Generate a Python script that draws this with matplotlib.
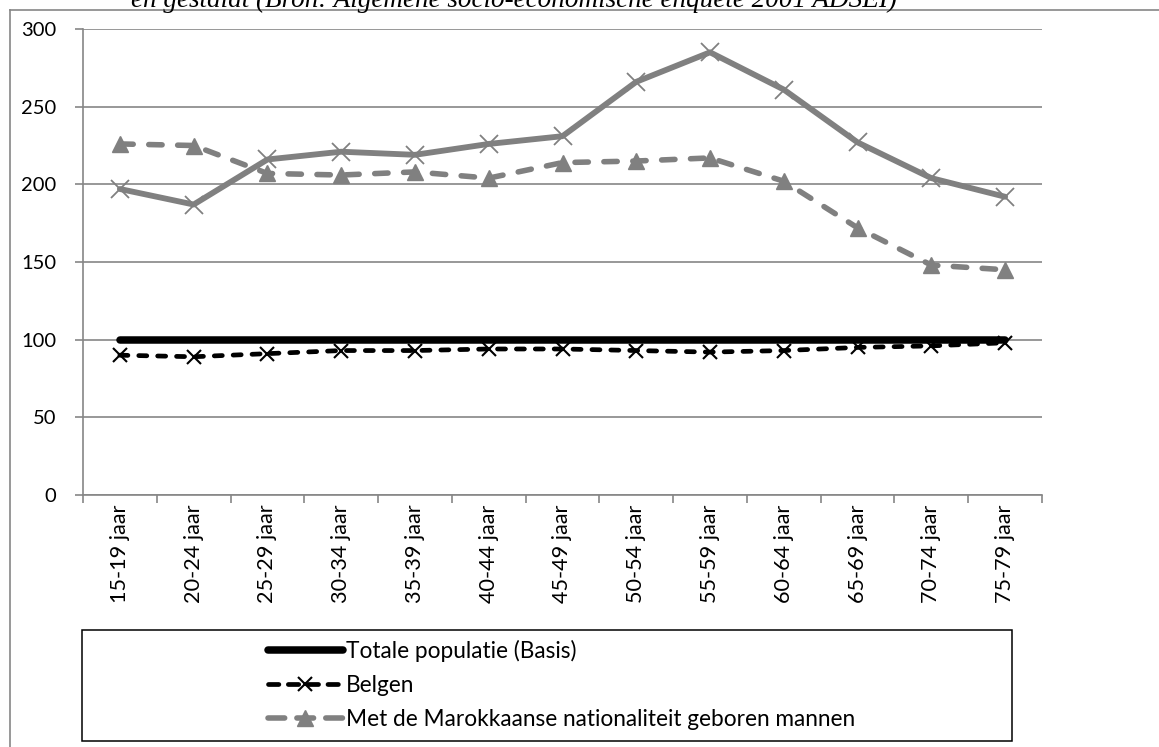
import matplotlib
matplotlib.use("Agg")
import matplotlib.pyplot as plt
from matplotlib.lines import Line2D
from matplotlib.patches import Rectangle

# Age groups and index values (total population = 100)
age_groups = ["15-19 jaar", "20-24 jaar", "25-29 jaar", "30-34 jaar", "35-39 jaar",
              "40-44 jaar", "45-49 jaar", "50-54 jaar", "55-59 jaar", "60-64 jaar",
              "65-69 jaar", "70-74 jaar", "75-79 jaar"]
totale_populatie = [100, 100, 100, 100, 100, 100, 100, 100, 100, 100, 100, 100, 100]
belgen = [90, 89, 91, 93, 93, 94, 94, 93, 92, 93, 95, 96, 98]
marokkaans_geboren = [226, 225, 207, 206, 208, 204, 214, 215, 217, 202, 172, 148, 145]
marokkaans_overig = [197, 187, 216, 221, 219, 226, 231, 266, 285, 261, 227, 204, 192]

series_labels = ["Totale populatie (Basis)", "Belgen",
                 "Met de Marokkaanse nationaliteit geboren mannen"]
title_text = "en gestaldt (Bron: Algemene socio-economische enquête 2001 ADSEI)"

W, H = 1159, 747
DPI = 100
GRID = "#868686"
GRAY = "#808080"
FONT = "Lato"

fig = plt.figure(figsize=(W / DPI, H / DPI), dpi=DPI)
fig.patch.set_facecolor("white")


def fx(px):
    return px / W


def fy(py):
    return 1 - py / H


ax = fig.add_axes([fx(83), fy(495), fx(1042) - fx(83), fy(29) - fy(495)])
x = list(range(len(age_groups)))

ax.plot(x, marokkaans_overig, color=GRAY, lw=4.2, marker="x", ms=13,
        mew=1.3, mec=GRAY, solid_capstyle="round", zorder=3)
ax.plot(x, marokkaans_geboren, color=GRAY, lw=4.0, marker="^", ms=11,
        mec=GRAY, mfc=GRAY, dashes=(2.4, 2.8), dash_capstyle="round", zorder=3)
ax.plot(x, totale_populatie, color="black", lw=5.4, solid_capstyle="round", zorder=4)
ax.plot(x, belgen, color="black", lw=3.4, marker="x", ms=10, mew=1.5,
        mec="black", dashes=(1.7, 2.3), dash_capstyle="round", zorder=5)

ax.set_xlim(-0.5, len(age_groups) - 0.5)
ax.set_ylim(0, 300)
ax.set_yticks(range(0, 301, 50))
ax.set_xticks([i - 0.5 for i in range(len(age_groups) + 1)], minor=False)
ax.set_xticklabels([])
ax.set_xticks(x, minor=True)
ax.set_xticklabels(age_groups, minor=True, rotation=90, fontsize=15.6,
                   family=FONT, va="top", ha="center")
ax.tick_params(axis="x", which="major", length=6, width=1.2, color=GRID, direction="out")
ax.tick_params(axis="x", which="minor", length=0, pad=7)
ax.tick_params(axis="y", length=6, width=1.2, color=GRID, direction="out", pad=13,
               labelsize=14.5)
for lab in ax.get_yticklabels():
    lab.set_family(FONT)

ax.grid(axis="y", color=GRID, lw=1.2)
ax.set_axisbelow(True)
for side in ("top", "right"):
    ax.spines[side].set_visible(False)
for side in ("left", "bottom"):
    ax.spines[side].set_color(GRID)
    ax.spines[side].set_linewidth(1.2)

# Chart-area border lines
fig.add_artist(Line2D([fx(10), 1], [fy(10), fy(10)], color=GRID, lw=1.2))
fig.add_artist(Line2D([fx(10), fx(10)], [fy(10), 0], color=GRID, lw=1.2))

# Caption running off the top edge
fig.text(fx(514), fy(7), title_text, ha="center", va="baseline", fontsize=19.5,
         style="italic", family="Liberation Serif")

# Legend box
fig.add_artist(Rectangle((fx(82), fy(741)), fx(1012) - fx(82), fy(630) - fy(741),
                         transform=fig.transFigure, fill=False, ec="black", lw=1.1))

handles = [
    Line2D([], [], color="black", lw=5.4, solid_capstyle="round"),
    Line2D([], [], color="black", lw=3.4, marker="x", ms=10, mew=1.5,
           dashes=(2.2, 2.0), dash_capstyle="round"),
    Line2D([], [], color=GRAY, lw=4.0, marker="^", ms=11, dashes=(3.0, 2.2),
           dash_capstyle="round"),
]
leg = fig.legend(handles, series_labels, loc="upper left",
                 bbox_to_anchor=(fx(268), fy(640)), frameon=False,
                 prop={"family": FONT, "size": 16.3}, handlelength=3.3,
                 handletextpad=0.15, labelspacing=0.58, borderpad=0,
                 borderaxespad=0, markerfirst=True)

fig.savefig("out.png", dpi=DPI, facecolor="white")
